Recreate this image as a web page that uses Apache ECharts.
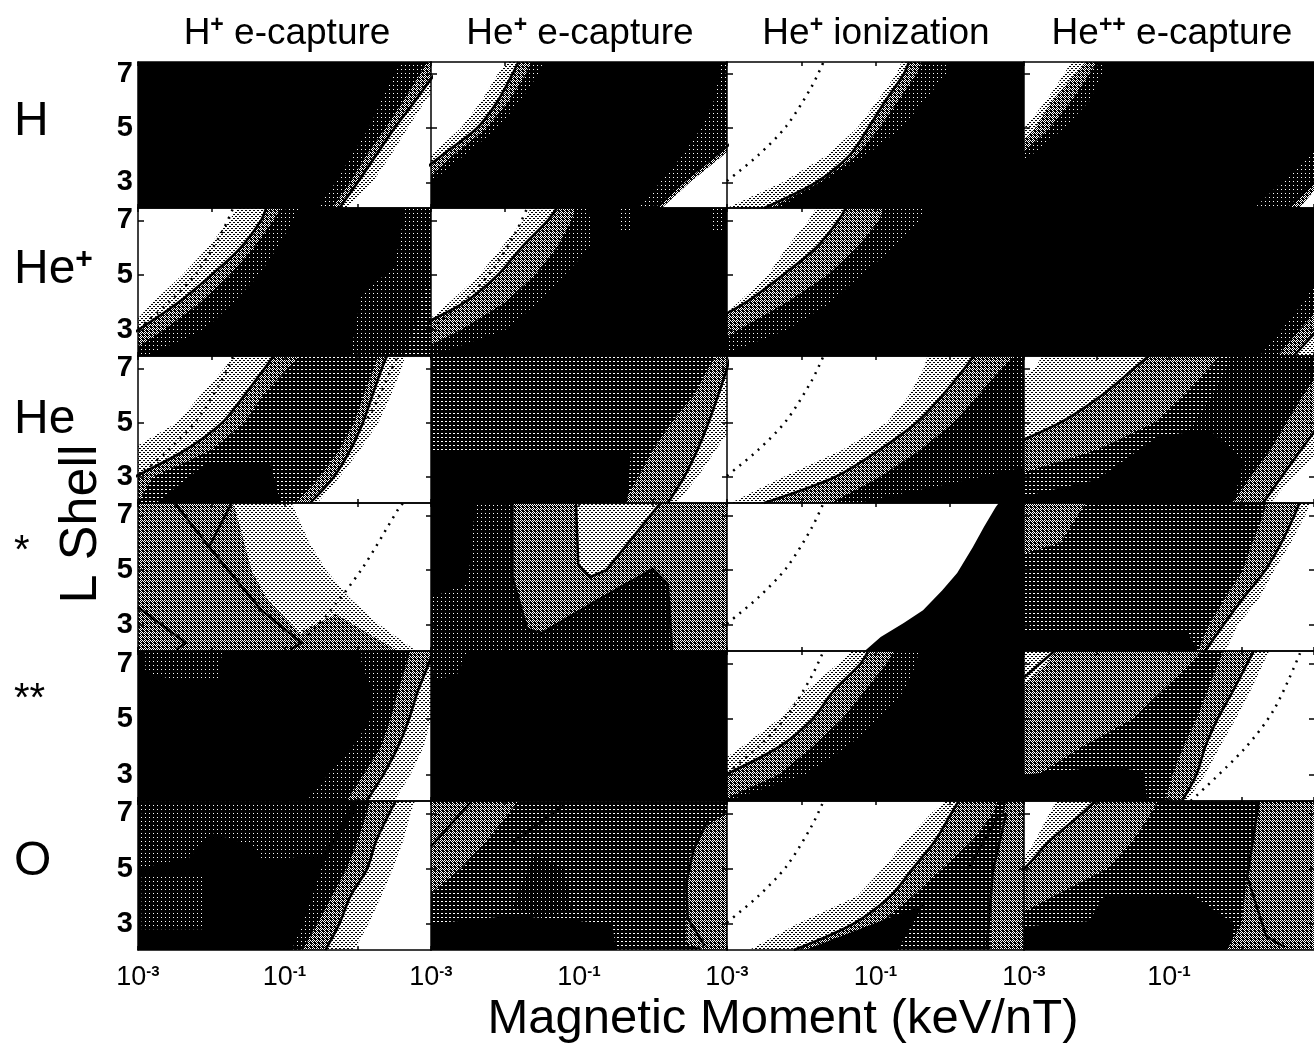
<!DOCTYPE html>
<html><head><meta charset="utf-8">
<style>html,body{margin:0;padding:0;background:#fff;overflow:hidden}#c{width:1314px;height:1043px}</style>
<script src="https://cdn.jsdelivr.net/npm/echarts@6/dist/echarts.min.js"></script>
</head><body><div id="c"></div>
<script>
// L values at which every edge below is read; x values are log10(magnetic moment)
const L_ROWS = [2.05,3,4,5,6,7,7.45];
const X_TICK_LABELS = ['-3','-1'];
const Y_TICKS = [3,5,7];
const ROW_NAMES = ['H','He+','He','*','**','O'];
const COL_NAMES = ['H+ e-capture','He+ e-capture','He+ ionization','He++ e-capture'];
// density levels: 0 black, 1 sparse white dots, 2 white dots, 3 half, 4 sparse black dots, 5 white
const DOT_LEFT = [[-3,3.05],[-2.58,4],[-2.2,5.08],[-1.86,6.54],[-1.7,7.45]];

// Row H
const H_Hc_levels=[0,1,3,4,5];
const H_Hc_edges=[[-.55,-.3,-.08,.15,.32,.5,.58],[-.35,-.1,.12,.38,.62,.85,.95],[-.25,0,.25,.5,.78,1.05,1.2],[-.15,.2,.45,.68,.92,1.2,1.3]];
const H_Hc_solid=[2];
const H_Hep_levels=[5,4,3,1,0,1,3,5];
const H_Hep_edges=[[-3.8,-3.5,-3.0,-2.6,-2.32,-2.1,-1.97],[-3.6,-3.3,-2.85,-2.38,-2.1,-1.9,-1.82],[-3.4,-3.1,-2.7,-2.25,-1.95,-1.72,-1.65],[-3.3,-3.0,-2.55,-2.1,-1.8,-1.55,-1.48],[-.2,.1,.4,.65,.82,.9,.92],[.05,.4,.85,1.3,1.7,2,2.1],[.12,.5,.95,1.4,1.8,2,2.1]];
const H_Hep_solid=[1,5];
const H_Ion_levels=[5,4,3,1,0];
const H_Ion_edges=[[-3,-2.25,-1.65,-1.25,-.98,-.72,-.65],[-2.5,-1.8,-1.35,-1.1,-.87,-.62,-.55],[-2.4,-1.75,-1.25,-.95,-.7,-.45,-.38],[-2.3,-1.72,-1.13,-.65,-.35,-.05,0]];
const H_Ion_solid=[1];
const H_Ion_dots=[DOT_LEFT];
const H_Hpp_levels=[5,4,3,1,0,1,3,5];
const H_Hpp_edges=[[-4,-3.9,-3.4,-3.0,-2.7,-2.45,-2.35],[-4,-3.7,-3.2,-2.85,-2.62,-2.3,-2.15],[-3.9,-3.5,-3.05,-2.65,-2.35,-2.1,-2],[-3.8,-3.3,-2.9,-2.45,-2.1,-1.92,-1.88],[.18,.55,.95,1.3,1.6,1.8,1.9],[.65,1,1.4,1.8,2,2.2,2.3],[.8,1.1,1.5,1.9,2.1,2.3,2.4]];
const H_Hpp_solid=[5];

// Row He+
const Hp_Hc_levels=[5,4,3,1,0];
const Hp_Hc_edges=[[-3.4,-3.15,-2.8,-2.4,-2.05,-1.75,-1.65],[-3.6,-3.0,-2.45,-2.0,-1.6,-1.32,-1.25],[-3.2,-2.65,-2.15,-1.75,-1.42,-1.15,-1.05],[-2.9,-2.1,-1.7,-1.35,-1.1,-.88,-.8]];
const Hp_Hc_solid=[1];
const Hp_Hc_dots=[DOT_LEFT];
const Hp_Hc_patches=[[1,[[-.1,2.1],[.05,4.3],[.5,5.3],[.65,7.45],[1,7.45],[1,2.1]]],[2,[[.65,2.1],[.75,3],[.85,3.6],[.9,4.5],[1,4.5],[1,2.1]]]];
const Hp_Hep_levels=[5,4,3,1,0];
const Hp_Hep_edges=[[-3.5,-3.2,-2.75,-2.35,-2.05,-1.75,-1.65],[-3.8,-3.25,-2.55,-2.1,-1.78,-1.42,-1.3],[-3.3,-2.6,-2.0,-1.6,-1.3,-1.1,-1.05],[-3,-2,-1.55,-1.2,-.85,-.82,-.9]];
const Hp_Hep_solid=[1];
const Hp_Hep_dots=[DOT_LEFT];
const Hp_Hep_patches=[[1,[[.8,6.6],[.95,6.6],[.95,7.45],[.8,7.45]]],[1,[[-.45,6.6],[-.3,6.6],[-.3,7.45],[-.45,7.45]]]];
const Hp_Ion_levels=[5,4,3,1,0];
const Hp_Ion_edges=[[-3.5,-3.25,-2.85,-2.45,-2.2,-1.9,-1.8],[-3.9,-3.4,-2.75,-2.25,-1.8,-1.5,-1.4],[-3.4,-2.85,-2.2,-1.65,-1.25,-.95,-.9],[-3.1,-2.2,-1.6,-1.2,-.75,-.4,-.35]];
const Hp_Ion_solid=[1];
const Hp_Hpp_levels=[0,1,3,4];
const Hp_Hpp_edges=[[.25,.55,.85,1.1,1.4,1.7,1.8],[.5,.8,1.15,1.5,1.8,2,2.1],[.72,1.05,1.4,1.8,2,2.2,2.3]];
const Hp_Hpp_solid=[2];

// Row He
const He_Hc_levels=[5,4,3,2,3,4,5];
const He_Hc_edges=[[-3.8,-3.4,-3.1,-2.47,-2.15,-1.82,-1.7],[-3.7,-3.05,-2.35,-1.85,-1.55,-1.27,-1.15],[-3,-2.8,-2.0,-1.55,-1.3,-.95,-.8],[-.85,-.52,-.25,-.05,.08,.22,.28],[-.65,-.33,-.1,.07,.2,.33,.4],[-.55,-.25,.03,.28,.45,.6,.65]];
const He_Hc_solid=[1,4];
const He_Hc_dots=[DOT_LEFT,[[0,4.7],[.19,5.4],[.45,6.9],[.55,7.45]]];
const He_Hc_patches=[[0,[[-2.75,2.05],[-2.05,3.55],[-1.2,3.55],[-1.05,2.05]]]];
const He_Hep_levels=[2,3,4,5];
const He_Hep_edges=[[-.4,-.2,0,.25,.55,.75,.85],[.2,.42,.6,.75,.88,1.0,1.05],[.32,.6,.85,1.1,1.3,1.5,1.6]];
const He_Hep_solid=[1];
const He_Hep_patches=[[0,[[-3,2.05],[-3,4.0],[-.3,3.9],[-.35,2.05]]]];
const He_Ion_levels=[5,4,3,1,0];
const He_Ion_edges=[[-2.95,-2.25,-1.45,-.85,-.55,-.35,-.3],[-2.5,-1.55,-.95,-.45,-.1,.2,.32],[-1.6,-.95,-.4,.05,.38,.7,.87],[-1.25,.4,2,2,2,2,2]];
const He_Ion_solid=[1];
const He_Ion_dots=[DOT_LEFT];
const He_Hpp_levels=[5,4,3,2,1,3,4,5];
const He_Hpp_edges=[[-5,-5,-5,-4,-3.4,-2.85,-2.75],[-4.4,-3.9,-3.3,-2.5,-1.93,-1.48,-1.28],[-3.6,-3.2,-2,-1.2,-.8,-.45,-.3],[-3.2,-1.7,-1.0,-.65,-.4,-.2,-.15],[-.12,.12,.4,.62,.85,1.1,1.2],[.3,.55,.82,1.1,1.4,1.7,1.8],[.4,.7,1.1,1.5,1.8,2,2.1]];
const He_Hpp_solid=[1,5];
const He_Hpp_patches=[[0,[[-3,2.3],[-2,2.9],[-1.15,4.5],[-.44,4.75],[.03,3.55],[-.12,2.05],[-3,2.05]]]];

// Row *
const S1_Hc_levels=[3,3,4,5];
const S1_Hc_edges=[[-.95,-1.07,-1.46,-1.77,-2.07,-2.35,-2.5],[-.55,-.9,-1.25,-1.45,-1.55,-1.65,-1.7],[.8,.3,-.12,-.43,-.66,-.83,-.9]];
const S1_Hc_lines=[[[-2.5,7.45],[-2.03,5.85],[-1.32,3.55],[-.77,2.35],[-.92,2.1]],[[-1.72,7.45],[-2.03,5.85]],[[-3,3.65],[-2.35,2.35],[-2.47,2.1]]];
const S1_Hc_dots=[[[-.75,2.45],[-.44,3.3],[.07,5.1],[.57,7.3],[.62,7.45]]];
const S1_Hc_patches=[[3,[[-.8,2.05],[-.75,2.8],[-.3,3.4],[.2,2.6],[.55,2.05]]]];
const S1_Hep_levels=[1];
const S1_Hep_edges=[];
const S1_Hep_lines=[[[-1.9,7.45],[-1.9,4.75],[-1.7,2.85],[-1.5,2.7],[-.75,3.9],[0,5.05],[.2,4.5],[.26,2.05]],[[-1.04,7.45],[-1.01,5.2],[-.85,4.75],[-.63,5],[.1,7.45]]];
const S1_Hep_patches=[[0,[[-3,4],[-3,7.45],[-2.4,7.45],[-2.5,4.5]]],[3,[[.1,7.45],[-.63,5],[0,5.05],[.2,4.5],[.26,2.05],[1,2.05],[1,7.45]]],[3,[[-1.9,7.45],[-1.9,4.75],[-1.7,2.85],[-1.5,2.7],[-.75,3.9],[0,5.05],[-.63,5],[-.85,4.75],[-1.01,5.2],[-1.04,7.45]]],[4,[[-1.04,7.45],[-1.01,5.2],[-.85,4.75],[-.63,5],[.1,7.45]]]];
const S1_Ion_levels=[5];
const S1_Ion_edges=[];
const S1_Ion_dots=[DOT_LEFT];
const S1_Ion_patches=[[0,[[-1.13,2.09],[-.93,2.56],[-.62,3.07],[-.36,3.54],[-.1,4.27],[.1,4.9],[.31,5.84],[.46,6.57],[.62,7.3],[.66,7.45],[2,7.45],[2,2.05],[-1.15,2.05]]]];
const S1_Hpp_levels=[2,3,4,5];
const S1_Hpp_edges=[[-.6,-.45,-.22,.02,.15,.3,.35],[-.5,-.25,.03,.33,.55,.73,.8],[-.22,-.05,.25,.45,.68,.88,.95]];
const S1_Hpp_solid=[1];
const S1_Hpp_patches=[[3,[[-3,7.45],[-2.15,7.45],[-2.5,6.0],[-3,5.6]]],[0,[[-3,2.05],[-3,2.75],[-.75,2.75],[-.6,2.05]]]];

// Row **
const S2_Hc_levels=[0,1,3,4,5];
const S2_Hc_edges=[[-.7,-.4,-.07,.18,.2,.05,.05],[-.15,.08,.32,.45,.55,.67,.72],[.12,.35,.55,.7,.82,.97,1.02],[.5,.72,.9,1,1.15,1.3,1.4]];
const S2_Hc_solid=[2];
const S2_Hc_patches=[[1,[[-2.9,7.45],[-1.85,7.45],[-1.9,6.4],[-2.5,6.4],[-2.9,6.7]]]];
const S2_Hep_levels=[0];
const S2_Hep_edges=[];
const S2_Hep_patches=[[1,[[-3,7.45],[-2.5,7.45],[-2.65,6.6],[-2.95,6.4]]]];
const S2_Ion_levels=[5,4,3,1,0];
const S2_Ion_edges=[[-3.8,-3.35,-2.8,-2.3,-1.95,-1.5,-1.33],[-3.8,-3.02,-2.3,-1.85,-1.57,-1.2,-1.1],[-3.1,-2.3,-1.85,-1.45,-1.15,-.85,-.75],[-3,-1.95,-1.38,-.95,-.62,-.45,-.42]];
const S2_Ion_solid=[1];
const S2_Ion_dots=[DOT_LEFT];
const S2_Hpp_levels=[4,3,2,3,4,5];
const S2_Hpp_edges=[[-5,-5,-5,-4,-3.1,-2.68,-2.58],[-3.4,-2.8,-2.2,-1.5,-1.1,-.7,-.55],[-1.05,-.95,-.8,-.62,-.47,-.32,-.25],[-.82,-.62,-.5,-.33,-.12,.08,.17],[-.75,-.5,-.3,-.08,.12,.3,.38]];
const S2_Hpp_solid=[3];
const S2_Hpp_lines=[[[-3,6.5],[-2.58,7.45]]];
const S2_Hpp_dots=[[[-.7,2.05],[.03,3.9],[.45,5.35],[.82,7.45]]];
const S2_Hpp_patches=[[0,[[-3,2.05],[-3,3.0],[-1.8,3.3],[-1.35,3.1],[-1.3,2.05]]]];

// Row O
const O_Hc_levels=[0,1,3,4,5];
const O_Hc_edges=[[-.9,-.75,-.62,-.5,-.3,-.05,0],[-.75,-.55,-.35,-.15,0,.12,.17],[-.44,-.25,-.1,.13,.25,.43,.52],[-.05,.15,.32,.48,.62,.72,.78]];
const O_Hc_solid=[2];
const O_Hc_patches=[[1,[[-3,7.45],[-.05,7.45],[-.35,6],[-.5,5.5],[-1.3,5.3],[-1.4,5.8],[-2,6.3],[-2.3,5.4],[-3,5]]],[1,[[-2.95,4.8],[-2.1,4.8],[-2.1,2.8],[-2.95,2.8]]]];
const O_Hep_levels=[3,2];
const O_Hep_edges=[[-3.6,-3.3,-3.05,-2.6,-2.25,-1.95,-1.82]];
const O_Hep_lines=[[[-3,5.8],[-2.45,7.45]],[[-1.9,5.95],[-1.2,7.3]],[[.7,2.2],[.47,3.2],[.45,4.5],[.55,5.7],[.75,6.8]]];
const O_Hep_patches=[[0,[[-3,2.05],[-3,3],[-1.9,3.3],[-.55,3.0],[-.5,2.05]]],[1,[[-1.6,5.5],[-1.2,5],[-1.1,3.5],[-1.5,3.2],[-1.9,3.6]]],[3,[[.45,2.3],[.45,3.5],[.5,5.5],[.7,6.5],[1,7],[1,2.05],[.7,2.05]]]];
const O_Ion_levels=[5,4,3,2];
const O_Ion_edges=[[-2.7,-2.05,-1.25,-.9,-.6,-.25,-.05],[-2.1,-1.3,-.8,-.5,-.2,.02,.12],[-1.42,-.95,-.5,-.1,.3,.58,.65]];
const O_Ion_solid=[1];
const O_Ion_lines=[[[.24,4.95],[.65,6.9],[.76,7],[.58,4.9],[.5,2.2]]];
const O_Ion_dots=[DOT_LEFT];
const O_Ion_patches=[[0,[[-1.95,2.05],[-.35,3.7],[-.7,2.05]]],[3,[[.76,7.45],[1,7.45],[1,2.05],[.55,2.05],[.58,4.9]]]];
const O_Hpp_levels=[5,4,3,2];
const O_Hpp_edges=[[-5,-5,-5,-3.1,-2.85,-2.65,-2.55],[-4.3,-3.9,-3.5,-3,-2.65,-2.2,-2.02],[-3.6,-3.3,-2.6,-1.85,-1.5,-1.25,-1.15]];
const O_Hpp_solid=[1];
const O_Hpp_lines=[[[.24,7.45],[.08,4.7],[.34,2.55],[.6,2.15]]];
const O_Hpp_patches=[[0,[[-3,2.05],[-3,2.9],[-2.1,3.1],[-1.9,4],[-.65,4],[-.1,3],[-.15,2.05]]],[3,[[.24,7.45],[.08,4.7],[0,3],[-.2,2.05],[1,2.05],[1,7.45]]]];

const panels=[
 [[H_Hc_levels,H_Hc_edges,H_Hc_solid],[H_Hep_levels,H_Hep_edges,H_Hep_solid],[H_Ion_levels,H_Ion_edges,H_Ion_solid,H_Ion_dots],[H_Hpp_levels,H_Hpp_edges,H_Hpp_solid]],
 [[Hp_Hc_levels,Hp_Hc_edges,Hp_Hc_solid,Hp_Hc_dots,Hp_Hc_patches],[Hp_Hep_levels,Hp_Hep_edges,Hp_Hep_solid,Hp_Hep_dots,Hp_Hep_patches],[Hp_Ion_levels,Hp_Ion_edges,Hp_Ion_solid],[Hp_Hpp_levels,Hp_Hpp_edges,Hp_Hpp_solid]],
 [[He_Hc_levels,He_Hc_edges,He_Hc_solid,He_Hc_dots,He_Hc_patches],[He_Hep_levels,He_Hep_edges,He_Hep_solid,[],He_Hep_patches],[He_Ion_levels,He_Ion_edges,He_Ion_solid,He_Ion_dots],[He_Hpp_levels,He_Hpp_edges,He_Hpp_solid,[],He_Hpp_patches]],
 [[S1_Hc_levels,S1_Hc_edges,[],S1_Hc_dots,S1_Hc_patches,S1_Hc_lines],[S1_Hep_levels,S1_Hep_edges,[],[],S1_Hep_patches,S1_Hep_lines],[S1_Ion_levels,S1_Ion_edges,[],S1_Ion_dots,S1_Ion_patches],[S1_Hpp_levels,S1_Hpp_edges,S1_Hpp_solid,[],S1_Hpp_patches]],
 [[S2_Hc_levels,S2_Hc_edges,S2_Hc_solid,[],S2_Hc_patches],[S2_Hep_levels,S2_Hep_edges,[],[],S2_Hep_patches],[S2_Ion_levels,S2_Ion_edges,S2_Ion_solid,S2_Ion_dots],[S2_Hpp_levels,S2_Hpp_edges,S2_Hpp_solid,S2_Hpp_dots,S2_Hpp_patches,S2_Hpp_lines]],
 [[O_Hc_levels,O_Hc_edges,O_Hc_solid,[],O_Hc_patches],[O_Hep_levels,O_Hep_edges,[],[],O_Hep_patches,O_Hep_lines],[O_Ion_levels,O_Ion_edges,O_Ion_solid,O_Ion_dots,O_Ion_patches,O_Ion_lines],[O_Hpp_levels,O_Hpp_edges,O_Hpp_solid,[],O_Hpp_patches,O_Hpp_lines]]
];

// layout
const colLeft=[138,431,727,1024], colW=[293,296,297,294];
const rowTop=[62,208,356,503,651,801], rowH=[146,148,147,148,150,149];
const XMIN=-3,XMAX=1,LMIN=2.05,LMAX=7.45,FAR=4;

function tile(size,pix,blackDots){
  const c=document.createElement('canvas');c.width=c.height=size;
  const g=c.getContext('2d');
  g.fillStyle=blackDots?'#fff':'#000';g.fillRect(0,0,size,size);
  g.fillStyle=blackDots?'#000':'#fff';
  pix.forEach(p=>g.fillRect(p[0],p[1],1,1));
  return {image:c,repeat:'repeat'};
}
const fills=[
 '#000',
 tile(4,[[1,1]],false),
 tile(4,[[1,1],[2,1]],false),
 tile(4,[[0,0],[2,0],[1,1],[3,1],[0,2],[1,3]],false),
 tile(4,[[0,0],[2,2],[1,2],[3,0]],true),
 '#fff'
];

const grids=[],xAxes=[],yAxes=[],series=[];
panels.forEach((row,r)=>row.forEach((p,c)=>{
  const idx=grids.length;
  const [levels,edges,solid=[],dots=[],patches=[],lines=[]]=p;
  grids.push({left:colLeft[c],top:rowTop[r],width:colW[c],height:rowH[r],containLabel:false});
  const axLine={show:true,onZero:false,lineStyle:{color:'#000',width:1.5}};
  const bottom=r===5;
  xAxes.push({gridIndex:idx,type:'value',min:XMIN,max:XMAX,interval:1,position:'bottom',z:6,splitLine:{show:false},axisLine:axLine,
    axisTick:{show:true,inside:true,length:4,lineStyle:{color:'#000',width:1.5}},
    axisLabel:{show:bottom,margin:14,hideOverlap:false,showMinLabel:true,showMaxLabel:false,color:'#000',
      formatter:v=>X_TICK_LABELS.includes(String(v))?'{b|10}{s|'+v+'}':'',
      rich:{b:{fontFamily:'Liberation Sans',fontSize:27,color:'#000'},s:{fontFamily:'Liberation Sans',fontSize:15,fontWeight:'bold',color:'#000',verticalAlign:'top',padding:[0,0,11,0]}}}});
  xAxes.push({gridIndex:idx,type:'value',min:XMIN,max:XMAX,interval:1,position:'top',z:6,splitLine:{show:false},axisLine:axLine,
    axisTick:{show:true,inside:true,length:4,lineStyle:{color:'#000',width:1.5}},axisLabel:{show:false}});
  yAxes.push({gridIndex:idx,type:'value',min:LMIN,max:LMAX,position:'left',z:6,splitLine:{show:false},axisLine:axLine,
    axisTick:{show:true,inside:true,length:6,customValues:Y_TICKS,lineStyle:{color:'#000',width:1.5}},
    axisLabel:{show:c===0,margin:5,customValues:Y_TICKS,fontFamily:'Liberation Sans',fontWeight:'bold',fontSize:29,color:'#000'}});
  yAxes.push({gridIndex:idx,type:'value',min:LMIN,max:LMAX,position:'right',z:6,splitLine:{show:false},axisLine:{show:false,onZero:false},
    axisTick:{show:true,inside:true,length:5,customValues:Y_TICKS,lineStyle:{color:'#000',width:1.5}},axisLabel:{show:false}});
  const xi=idx*2,yi=idx*2;
  // painted back to front: each band runs from its left edge to beyond the right side
  const polys=[];
  levels.forEach((lv,i)=>{
    if(i===0) polys.push([lv,[[XMIN-2,LMIN],[XMIN-2,LMAX],[FAR,LMAX],[FAR,LMIN]]]);
    else polys.push([lv,edges[i-1].map((x,j)=>[x,L_ROWS[j]]).concat([[FAR,LMAX],[FAR,LMIN]])]);
  });
  patches.forEach(q=>polys.push(q));
  const data=[];
  polys.forEach((q,k)=>q[1].forEach((pt,n)=>data.push([pt[0],pt[1],k,n])));
  series.push({type:'custom',coordinateSystem:'cartesian2d',xAxisIndex:xi,yAxisIndex:yi,clip:true,z:1,silent:true,progressive:0,animation:false,
    encode:{x:0,y:1},data,
    renderItem:(params,api)=>{
      if(api.value(3)!==0) return null;
      const q=polys[api.value(2)];
      return {type:'polygon',shape:{points:q[1].map(pt=>api.coord(pt))},style:{fill:fills[q[0]],stroke:null}};
    }});
  const lineOpt=(d,w,sm)=>({type:'line',xAxisIndex:xi,yAxisIndex:yi,data:d,showSymbol:false,silent:true,animation:false,z:3,clip:true,smooth:sm,lineStyle:w});
  solid.forEach(i=>series.push(lineOpt(edges[i].map((x,j)=>[x,L_ROWS[j]]),{color:'#000',width:2.5},0.3)));
  lines.forEach(d=>series.push(lineOpt(d,{color:'#000',width:2.5},0)));
  dots.forEach(d=>series.push(lineOpt(d,{color:'#000',width:2.5,type:[2,6]},0.3)));
}));

// text
const rich=(fs)=>({a:{fontFamily:'Liberation Sans',fontSize:fs,color:'#000'},s:{fontFamily:'Liberation Sans',fontSize:Math.round(fs*.62),fontWeight:'bold',color:'#000',verticalAlign:'top',padding:[0,0,Math.round(fs*.42),0]}});
const supText=t=>{const m=t.match(/^([A-Za-z]+)(\++)(.*)$/);return m?'{a|'+m[1]+'}{s|'+m[2]+'}{a|'+m[3]+'}':'{a|'+t+'}';};
const colCenter=[287,580,876,1172];
const rowLabelY=[122,270,420,552,700,862];
const graphic=[];
COL_NAMES.forEach((t,i)=>graphic.push({type:'text',x:colCenter[i],y:34,silent:true,style:{text:supText(t),rich:rich(37),align:'center',verticalAlign:'middle'}}));
ROW_NAMES.forEach((t,i)=>graphic.push({type:'text',x:14,y:rowLabelY[i],silent:true,style:{text:supText(t),rich:rich(t.includes('*')?40:48),align:'left',verticalAlign:'middle'}}));
graphic.push({type:'text',x:82,y:524,rotation:Math.PI/2,silent:true,style:{text:'L Shell',fontFamily:'Liberation Sans',fontSize:52,fill:'#000',align:'center',verticalAlign:'middle'}});
graphic.push({type:'text',x:783,y:1019,silent:true,style:{text:'Magnetic Moment (keV/nT)',fontFamily:'Liberation Sans',fontSize:49,fill:'#000',align:'center',verticalAlign:'middle'}});

const chart=echarts.init(document.getElementById('c'),null,{renderer:'canvas',width:1314,height:1043});
chart.setOption({animation:false,backgroundColor:'#fff',grid:grids,xAxis:xAxes,yAxis:yAxes,series,graphic});
</script></body></html>
